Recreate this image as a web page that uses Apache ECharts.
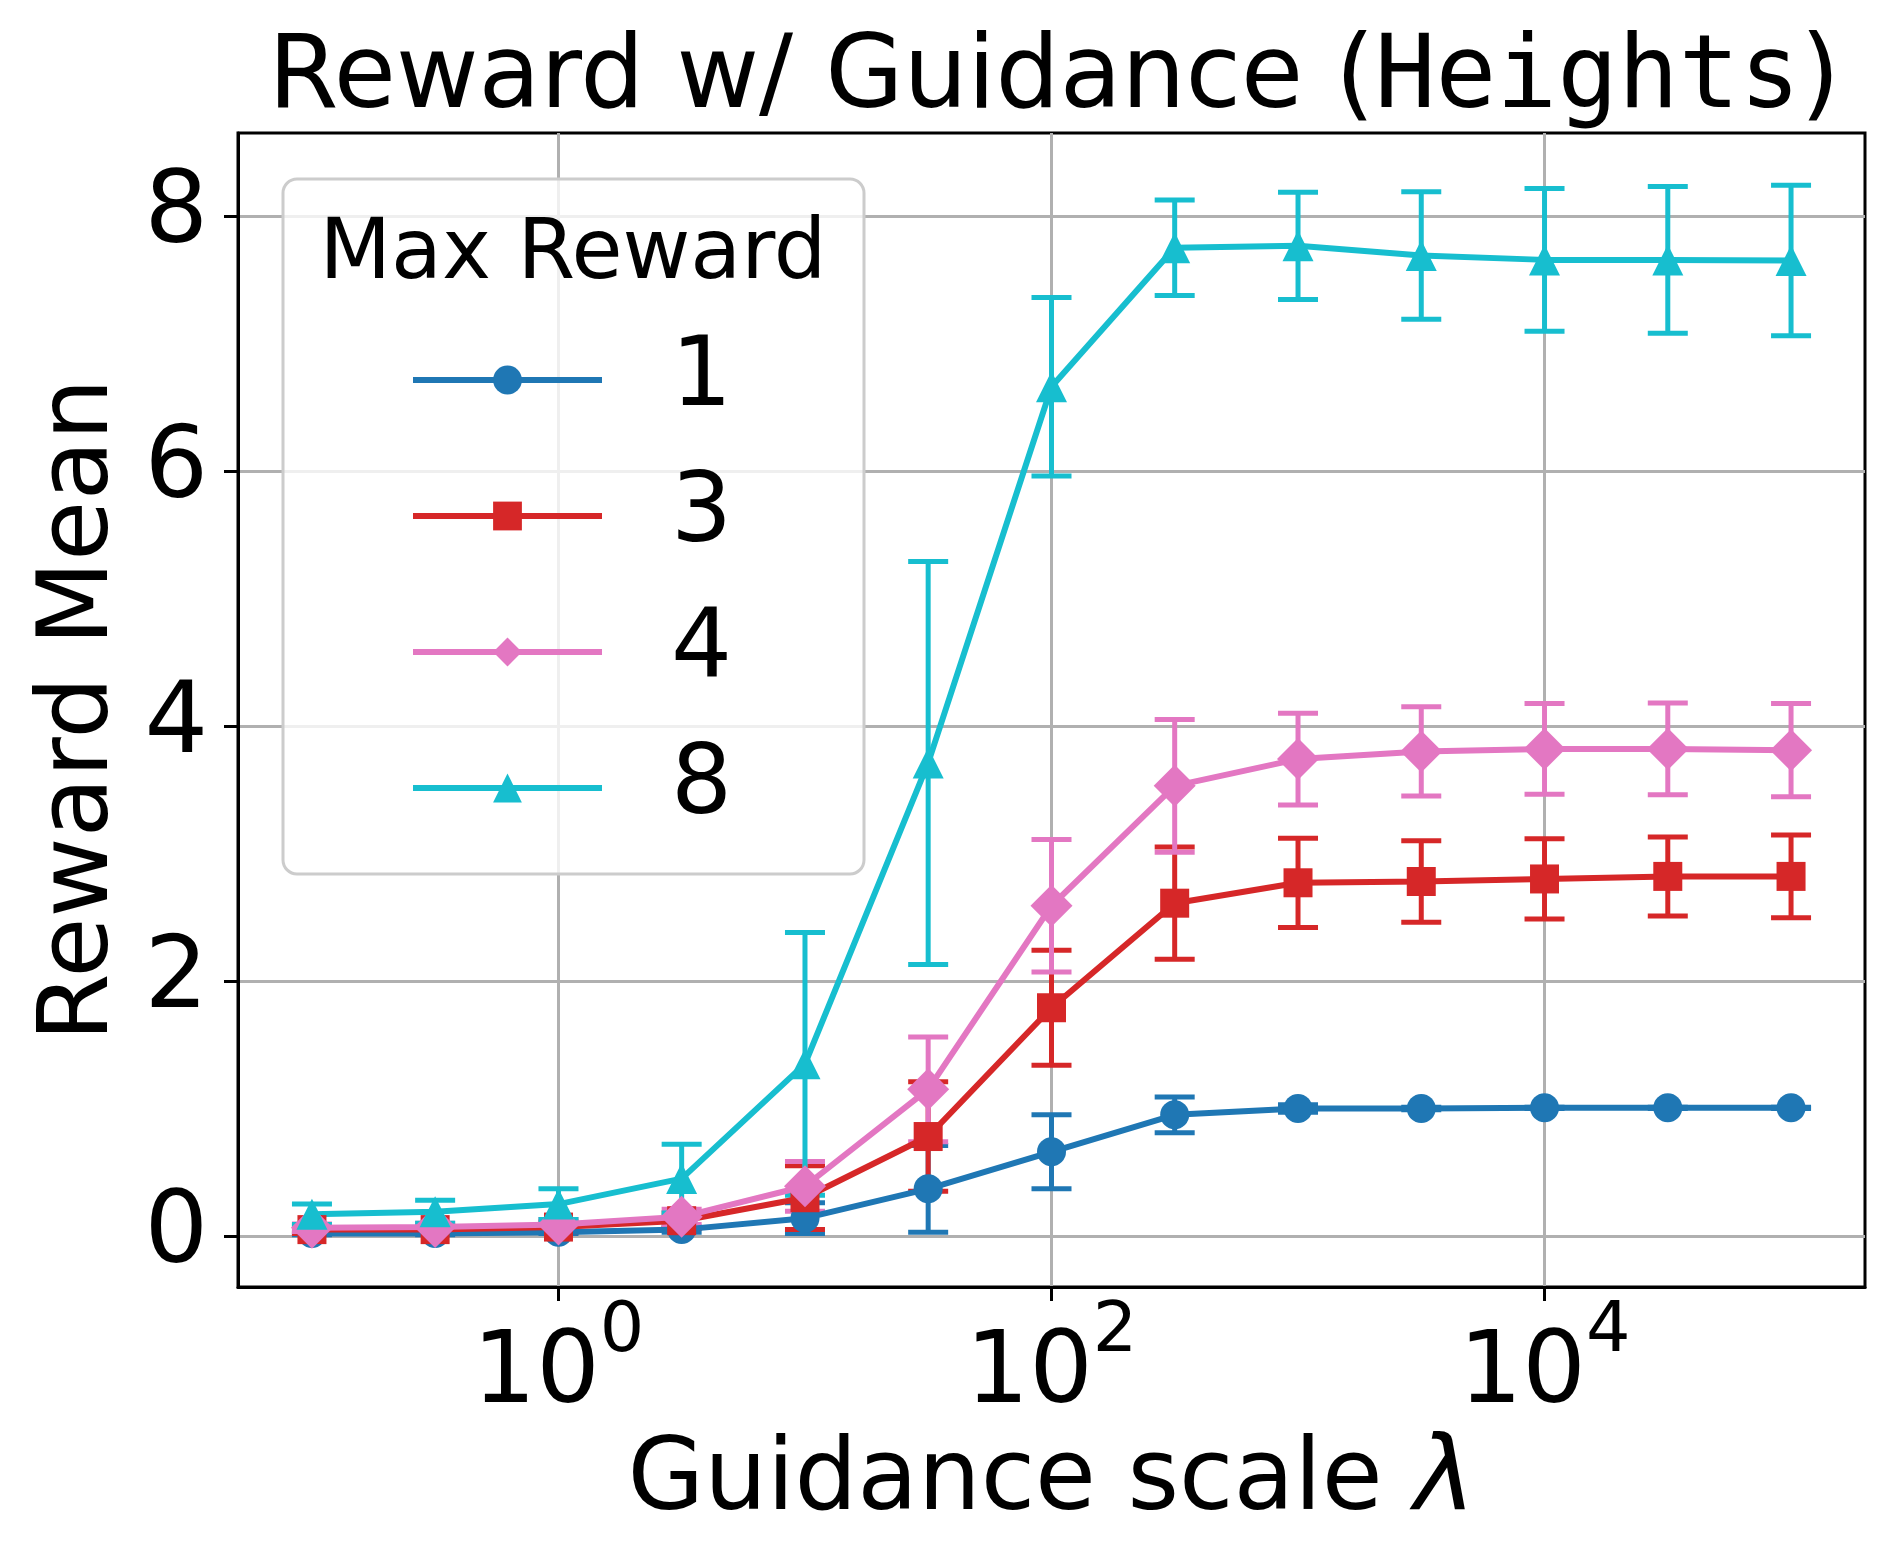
<!DOCTYPE html>
<html>
<head>
<meta charset="utf-8">
<script src="https://cdn.jsdelivr.net/npm/echarts@6/dist/echarts.min.js"></script>
<style>
  html, body { margin: 0; padding: 0; background: #ffffff; }
  #chart { width: 1893px; height: 1557px; }
</style>
</head>
<body>
<div id="chart"></div>
<script>
// guidance scale lambda (x) and reward mean / std per max reward level
var lambdas = [0.1, 0.316, 1, 3.16, 10, 31.6, 100, 316, 1000, 3162, 10000, 31623, 100000];
var seriesNames = ['1', '3', '4', '8'];

var mean1 = [0.02, 0.02, 0.03, 0.05, 0.14, 0.37, 0.66, 0.95, 1.0, 1.0, 1.005, 1.005, 1.005];
var err1  = [0.01, 0.01, 0.01, 0.02, 0.12, 0.34, 0.29, 0.14, 0.03, 0.01, 0.005, 0.005, 0.005];
var mean3 = [0.05, 0.05, 0.07, 0.12, 0.30, 0.78, 1.79, 2.61, 2.77, 2.78, 2.80, 2.82, 2.82];
var err3  = [0.03, 0.03, 0.04, 0.06, 0.25, 0.43, 0.45, 0.44, 0.35, 0.32, 0.315, 0.31, 0.325];
var mean4 = [0.065, 0.07, 0.09, 0.15, 0.39, 1.15, 2.59, 3.53, 3.74, 3.80, 3.82, 3.82, 3.81];
var err4  = [0.03, 0.03, 0.04, 0.06, 0.195, 0.41, 0.52, 0.52, 0.36, 0.35, 0.355, 0.36, 0.365];
var mean8 = [0.17, 0.19, 0.25, 0.45, 1.35, 3.71, 6.66, 7.75, 7.765, 7.69, 7.655, 7.655, 7.65];
var err8  = [0.08, 0.09, 0.12, 0.27, 1.03, 1.58, 0.70, 0.375, 0.42, 0.50, 0.56, 0.575, 0.59];

var xTickValues = [1, 100, 10000];
var yTickValues = [0, 2, 4, 6, 8];

(function() {
  var sans = 'DejaVu Sans';
  var mono = 'DejaVu Sans Mono';
  var colors = ['#1f77b4', '#d62728', '#e377c2', '#17becf'];
  var symbols = ['circle', 'rect', 'diamond', 'triangle'];
  var symbolSizes = [29, 29, [42, 42], 31];
  var means = [mean1, mean3, mean4, mean8];
  var errs = [err1, err3, err4, err8];
  var lw = 6;
  var elw = 5;
  var cap = 20;

  function renderErr(params, api) {
    var x = api.value(0);
    var p0 = api.coord([x, api.value(1)]);
    var p1 = api.coord([x, api.value(2)]);
    var st = { stroke: api.visual('color'), lineWidth: elw };
    return {
      type: 'group',
      children: [
        { type: 'line', shape: { x1: p0[0], y1: p0[1], x2: p1[0], y2: p1[1] }, style: st },
        { type: 'line', shape: { x1: p0[0] - cap, y1: p0[1], x2: p0[0] + cap, y2: p0[1] }, style: st },
        { type: 'line', shape: { x1: p1[0] - cap, y1: p1[1], x2: p1[0] + cap, y2: p1[1] }, style: st }
      ]
    };
  }

  var series = [];
  // error bars first, below all lines and markers
  for (var i = 0; i < 4; i++) {
    series.push({
      type: 'custom',
      name: 'err' + seriesNames[i],
      renderItem: renderErr,
      encode: { x: 0, y: [1, 2] },
      itemStyle: { color: colors[i] },
      z: 2,
      silent: true,
      data: lambdas.map(function(x, j) { return [x, means[i][j] - errs[i][j], means[i][j] + errs[i][j]]; })
    });
  }
  for (var k = 0; k < 4; k++) {
    series.push({
      type: 'line',
      name: seriesNames[k],
      symbol: symbols[k],
      symbolSize: symbolSizes[k],
      showAllSymbol: true,
      lineStyle: { width: lw, color: colors[k] },
      itemStyle: { color: colors[k], borderWidth: 0 },
      z: 3,
      emphasis: { disabled: true },
      data: lambdas.map(function(x, j) { return [x, means[k][j]]; })
    });
  }

  var chart = echarts.init(document.getElementById('chart'), null, { renderer: 'canvas' });
  chart.setOption({
    animation: false,
    backgroundColor: '#ffffff',
    textStyle: { fontFamily: sans },
    title: {
      text: '{a|Reward w/ Guidance (}{m|Heights}{a|)}',
      left: 1054,
      textAlign: 'center',
      top: 31,
      padding: 0,
      textStyle: {
        fontWeight: 'normal',
        rich: {
          a: { fontFamily: sans, fontWeight: 'normal', fontSize: 101, lineHeight: 100, color: '#000' },
          m: { fontFamily: mono, fontWeight: 'normal', fontSize: 101, lineHeight: 100, color: '#000' }
        }
      }
    },
    grid: {
      left: 238, right: 28, top: 133, bottom: 270,
      show: true, borderColor: '#000', borderWidth: 3, backgroundColor: 'transparent'
    },
    legend: {
      orient: 'vertical',
      left: 410,
      top: 332,
      padding: 0,
      itemGap: 40,
      itemWidth: 189,
      itemHeight: 36,
      z: 20,
      data: seriesNames,
      selectedMode: false,
      lineStyle: { width: lw },
      textStyle: { fontFamily: sans, fontSize: 96, lineHeight: 96, color: '#000', padding: [0, 0, 0, 64] }
    },
    graphic: [
      {
        type: 'rect', z: 10,
        shape: { x: 283, y: 179, width: 581, height: 695, r: 14 },
        style: { fill: 'rgba(255,255,255,0.8)', stroke: '#cccccc', lineWidth: 3 }
      },
      {
        type: 'text', z: 11,
        style: { text: 'Max Reward', x: 573, y: 256, textAlign: 'center', textVerticalAlign: 'middle',
                 fontFamily: sans, fontSize: 83, fill: '#000' }
      }
    ],
    xAxis: {
      type: 'log',
      logBase: 10,
      min: Math.pow(10, -1.3),
      max: Math.pow(10, 5.3),
      name: '{t|Guidance scale }{l|λ}',
      nameLocation: 'middle',
      nameGap: 136,
      nameTextStyle: {
        rich: {
          t: { fontFamily: sans, fontSize: 99, lineHeight: 98, color: '#000' },
          l: { fontFamily: sans, fontStyle: 'italic', fontSize: 104, lineHeight: 98, color: '#000' }
        }
      },
      axisLine: { show: true, onZero: false, lineStyle: { color: '#000', width: 3 } },
      axisTick: { show: true, length: 14, lineStyle: { color: '#000', width: 3 }, customValues: xTickValues },
      axisLabel: {
        margin: 11,
        customValues: xTickValues,
        formatter: function(v) {
          return '{b|10}{s|' + Math.round(Math.log10(v)) + '}';
        },
        rich: {
          b: { fontFamily: sans, fontSize: 100, lineHeight: 128, verticalAlign: 'bottom', color: '#000' },
          s: { fontFamily: sans, fontSize: 70, lineHeight: 70, verticalAlign: 'top', color: '#000' }
        }
      },
      splitLine: { show: true, lineStyle: { color: '#b0b0b0', width: 3 } },
      minorTick: { show: false },
      minorSplitLine: { show: false }
    },
    yAxis: {
      type: 'value',
      min: -0.4,
      max: 8.65,
      name: 'Reward Mean',
      nameLocation: 'middle',
      nameGap: 107,
      nameRotate: 90,
      nameTextStyle: { fontFamily: sans, fontSize: 98, lineHeight: 98, color: '#000' },
      axisLine: { show: true, onZero: false, lineStyle: { color: '#000', width: 3 } },
      axisTick: { show: true, length: 14, lineStyle: { color: '#000', width: 3 }, customValues: yTickValues },
      axisLabel: { margin: 30, customValues: yTickValues, fontFamily: sans, fontSize: 100, color: '#000' },
      splitLine: { show: true, lineStyle: { color: '#b0b0b0', width: 3 } }
    },
    series: series
  });
})();
</script>
</body>
</html>
